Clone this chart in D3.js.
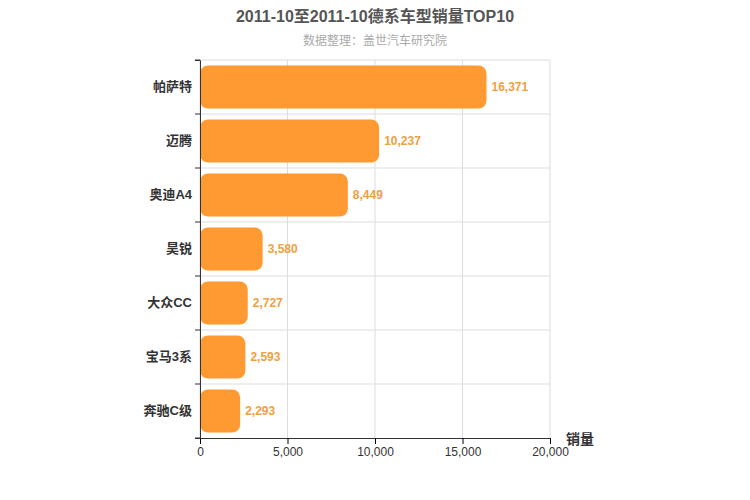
<!DOCTYPE html>
<html><head><meta charset="utf-8">
<script src="https://cdn.jsdelivr.net/npm/d3@7"></script>
<style>body{margin:0;background:#fff;} svg text{font-family:"Liberation Sans","Noto Sans CJK SC",sans-serif;}</style>
</head><body><svg id="c" width="750" height="500"></svg>
<script>
const categories=["帕萨特","迈腾","奥迪A4","昊锐","大众CC","宝马3系","奔驰C级"];
const values=[16371,10237,8449,3580,2727,2593,2293];
const ticks=[0,5000,10000,15000,20000];
const svg=d3.select("#c");
const L=200,R=550,T=60,B=438;
const x=d3.scaleLinear().domain([0,20000]).range([L,R]);
const y=d3.scaleBand().domain(categories).range([T,B]).paddingInner(0.2).paddingOuter(0.1);
const yb=d3.scaleBand().domain(categories).range([T,B]);
svg.append("text").attr("x",375).attr("y",22).attr("text-anchor","middle").attr("font-size",16).attr("font-weight","bold").attr("fill","#555").text("2011-10至2011-10德系车型销量TOP10");
svg.append("text").attr("x",375).attr("y",45).attr("text-anchor","middle").attr("font-size",12).attr("fill","#aaa").text("数据整理：盖世汽车研究院");
const g=svg.append("g");
ticks.forEach(t=>g.append("line").attr("x1",x(t)).attr("x2",x(t)).attr("y1",T).attr("y2",B).attr("stroke","#ddd"));
categories.forEach((c,i)=>{if(i>0)g.append("line").attr("x1",L).attr("x2",R).attr("y1",yb(c)).attr("y2",yb(c)).attr("stroke","#ddd");});
g.append("line").attr("x1",L).attr("x2",R).attr("y1",T).attr("y2",T).attr("stroke","#ddd");
g.selectAll("rect.b").data(values).enter().append("rect").attr("x",L).attr("y",(d,i)=>y(categories[i])).attr("width",d=>x(d)-L).attr("height",y.bandwidth()).attr("rx",8).attr("fill","#ff9a33");
g.selectAll("text.v").data(values).enter().append("text").attr("x",d=>x(d)+5).attr("y",(d,i)=>y(categories[i])+y.bandwidth()/2+4).attr("font-size",12).attr("font-weight","bold").attr("fill","#f0a040").text(d=>d3.format(",")(d));
const ax=svg.append("g").attr("transform",`translate(0,${B})`).call(d3.axisBottom(x).tickValues(ticks).tickFormat(d3.format(",")).tickSizeOuter(0));
ax.selectAll("text").attr("font-size",12).attr("fill","#333");ax.select(".domain").attr("stroke","#333");
const ay=svg.append("g").attr("transform",`translate(${L},0)`).call(d3.axisLeft(yb).tickSizeOuter(0).tickSize(5));
ay.selectAll("text").attr("font-size",13).attr("font-weight","bold").attr("fill","#333");ay.select(".domain").attr("stroke","#333");
ay.selectAll(".tick line").remove();
categories.forEach(c=>ay.append("line").attr("x1",-5).attr("x2",0).attr("y1",yb(c)).attr("y2",yb(c)).attr("stroke","#333"));
ay.append("line").attr("x1",-5).attr("x2",0).attr("y1",B).attr("y2",B).attr("stroke","#333");
svg.append("text").attr("x",580).attr("y",444).attr("text-anchor","middle").attr("font-size",14).attr("font-weight","bold").attr("fill","#333").text("销量");
</script></body></html>
